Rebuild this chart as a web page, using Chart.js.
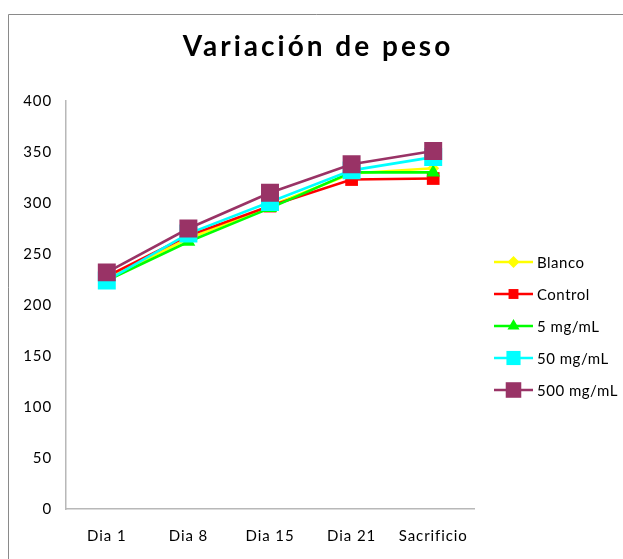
<!DOCTYPE html>
<html>
<head>
<meta charset="utf-8">
<script src="https://cdn.jsdelivr.net/npm/chart.js@4/dist/chart.umd.min.js"></script>
<style>
  html, body { margin: 0; padding: 0; background: #ffffff; }
  #wrap { position: relative; width: 623px; height: 559px; }
  canvas { display: block; }
</style>
</head>
<body>
<div id="wrap"><canvas id="c" width="623" height="559"></canvas></div>
<script>
// ---- Data ----
const chartTitle = "Variación de peso";
const categories = ["Dia 1", "Dia 8", "Dia 15", "Dia 21", "Sacrificio"];
const seriesNames = ["Blanco", "Control", "5 mg/mL", "50 mg/mL", "500 mg/mL"];
const blanco  = [226, 265, 297, 329, 334];
const control = [228, 268, 297, 323, 324];
const mg5     = [224, 262, 295, 330, 330];
const mg50    = [224, 270, 301, 332, 345];
const mg500   = [232, 275, 310, 338, 351];
const yTicks  = [0, 50, 100, 150, 200, 250, 300, 350, 400];

const FONT = "Lato, 'Open Sans', 'DejaVu Sans', sans-serif";

const styles = [
  { color: "#FFFF00", point: "rectRot",  r: 6,  lr: 6 },
  { color: "#FF0000", point: "rect",     r: 9,  lr: 7 },
  { color: "#00FF00", point: "triangle", r: 8,  lr: 7 },
  { color: "#00FFFF", point: "rect",     r: 12.7, lr: 10 },
  { color: "#993366", point: "rect",     r: 12.7, lr: 11 }
];
const seriesData = [blanco, control, mg5, mg50, mg500];

const datasets = seriesData.map((d, i) => ({
  label: seriesNames[i],
  data: d,
  borderColor: styles[i].color,
  backgroundColor: styles[i].color,
  pointBackgroundColor: styles[i].color,
  pointBorderColor: styles[i].color,
  pointBorderWidth: 0,
  pointStyle: styles[i].point,
  pointRadius: styles[i].r,
  pointHoverRadius: styles[i].r,
  borderWidth: 2.6,
  tension: 0,
  order: seriesNames.length - 1 - i
}));

function drawMarker(ctx, style, r, x, y, color) {
  ctx.save();
  ctx.fillStyle = color;
  ctx.beginPath();
  if (style === "rect") {
    const s = Math.SQRT1_2 * r;
    ctx.rect(x - s, y - s, 2 * s, 2 * s);
  } else if (style === "rectRot") {
    ctx.moveTo(x, y - r); ctx.lineTo(x + r, y); ctx.lineTo(x, y + r); ctx.lineTo(x - r, y);
    ctx.closePath();
  } else if (style === "triangle") {
    const a = -Math.PI / 2;
    for (let k = 0; k < 3; k++) {
      const ang = a + k * 2 * Math.PI / 3;
      const px = x + Math.cos(ang) * r, py = y + Math.sin(ang) * r;
      if (k === 0) ctx.moveTo(px, py); else ctx.lineTo(px, py);
    }
    ctx.closePath();
  }
  ctx.fill();
  ctx.restore();
}

const decorPlugin = {
  id: "decor",
  beforeDraw(chart) {
    const ctx = chart.ctx;
    ctx.save();
    ctx.fillStyle = "#ffffff";
    ctx.fillRect(0, 0, chart.width, chart.height);
    ctx.strokeStyle = "#8a8a8a";
    ctx.lineWidth = 1;
    ctx.beginPath();
    ctx.moveTo(8.5, chart.height + 2);
    ctx.lineTo(8.5, 14.5);
    ctx.lineTo(chart.width + 2, 14.5);
    ctx.stroke();
    ctx.restore();
    // spacing for axis tick labels drawn after this hook
    try { ctx.letterSpacing = "0.9px"; } catch (e) {}
  },
  afterDraw(chart) {
    const ctx = chart.ctx;
    ctx.save();
    // title
    ctx.fillStyle = "#000000";
    ctx.font = "bold 28px " + FONT;
    ctx.textAlign = "center";
    ctx.textBaseline = "middle";
    try { ctx.letterSpacing = "3px"; } catch (e) {}
    ctx.fillText(chartTitle, 318, 47);
    try { ctx.letterSpacing = "0.5px"; } catch (e) {}
    // legend
    const x0 = 494, x1 = 533, tx = 537;
    const y0 = 262, dy = 32;
    chart.data.datasets.forEach((ds, i) => {
      const y = y0 + i * dy;
      ctx.strokeStyle = ds.borderColor;
      ctx.lineWidth = 2.6;
      ctx.beginPath();
      ctx.moveTo(x0, y); ctx.lineTo(x1, y);
      ctx.stroke();
      drawMarker(ctx, styles[i].point, styles[i].lr, (x0 + x1) / 2, y, ds.borderColor);
      ctx.fillStyle = "#000000";
      ctx.font = "15px " + FONT;
      ctx.textAlign = "left";
      ctx.textBaseline = "middle";
      ctx.fillText(ds.label, tx, y + 1);
    });
    ctx.restore();
    try { ctx.letterSpacing = "0px"; } catch (e) {}
  }
};

new Chart(document.getElementById("c"), {
  type: "line",
  data: { labels: categories, datasets: datasets },
  options: {
    responsive: false,
    animation: false,
    devicePixelRatio: 1,
    layout: { padding: { top: 101, right: 149, bottom: 0, left: 0 } },
    plugins: {
      legend: { display: false },
      title: { display: false },
      tooltip: { enabled: false }
    },
    scales: {
      x: {
        offset: true,
        grid: { display: false, drawTicks: false },
        border: { display: true, color: "#b8b8b8", width: 1.5 },
        ticks: { color: "#000000", font: { family: FONT, size: 15 }, padding: 18, maxRotation: 0 },
        afterFit(scale) { scale.height = 50; }
      },
      y: {
        min: 0, max: 400,
        afterBuildTicks(scale) { scale.ticks = yTicks.map(v => ({ value: v })); },
        grid: { display: false, drawTicks: false },
        border: { display: true, color: "#b8b8b8", width: 1.5 },
        ticks: { color: "#000000", font: { family: FONT, size: 15 }, padding: 14 },
        afterFit(scale) { scale.width = 66; }
      }
    }
  },
  plugins: [decorPlugin]
});
</script>
</body>
</html>
